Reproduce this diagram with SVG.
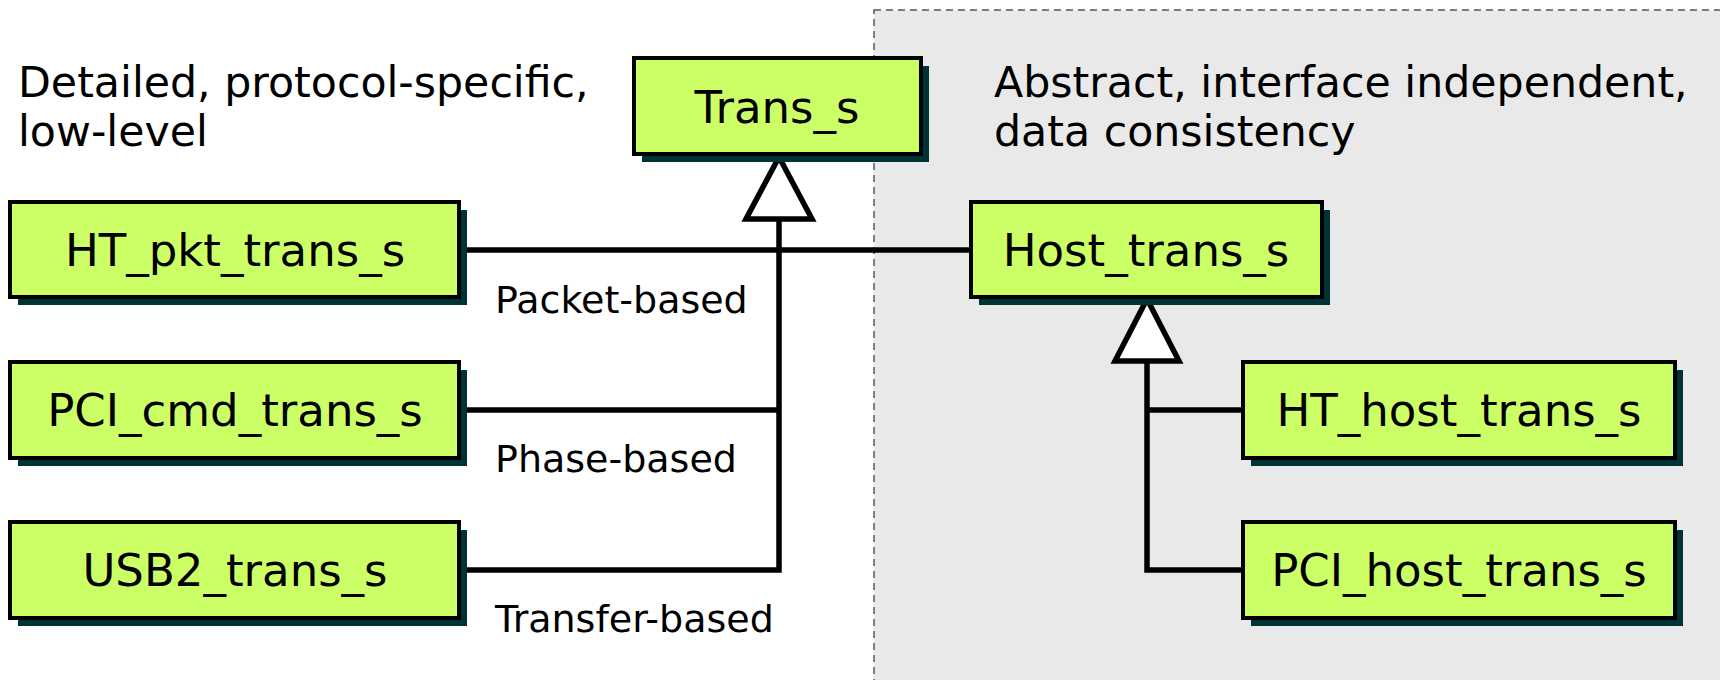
<svg xmlns="http://www.w3.org/2000/svg" width="1720" height="680" viewBox="0 0 1720 680">
  <style>
    .region { fill: #e9e9e9; stroke: #555555; stroke-width: 1.5; stroke-dasharray: 7 5; }
    .shadow { fill: #003333; }
    .box { fill: #ccff66; stroke: #000000; stroke-width: 4; }
    .name { font-family: "DejaVu Sans", Verdana, sans-serif; font-size: 45px; fill: #000000; text-anchor: middle; }
    .heading { font-family: "DejaVu Sans", Verdana, sans-serif; font-size: 42.7px; fill: #000000; }
    .tag { font-family: "DejaVu Sans", Verdana, sans-serif; font-size: 38px; fill: #000000; }
    .wire { fill: none; stroke: #000000; stroke-width: 5.5; }
    .inherit { fill: #ffffff; stroke: #000000; stroke-width: 5.5; stroke-linejoin: miter; }
  </style>

  <!-- abstract-level area on the right -->
  <rect class="region" x="874" y="10" width="860" height="690"/>

  <text class="heading" x="18" y="97">Detailed, protocol-specific,</text>
  <text class="heading" x="18" y="146">low-level</text>
  <text class="heading" x="994" y="97">Abstract, interface independent,</text>
  <text class="heading" x="994" y="146">data consistency</text>

  <!-- connectors -->
  <g id="connectors">
    <path class="wire" d="M459 250 H971"/>
    <path class="wire" d="M779 215 V570 H459"/>
    <path class="wire" d="M459 410 H779"/>
    <path class="wire" d="M1147 360 V570 H1243"/>
    <path class="wire" d="M1147 410 H1243"/>
    <polygon class="inherit" points="779,157 812,219 746,219"/>
    <polygon class="inherit" points="1147,299 1179,361 1115,361"/>
  </g>

  <text class="tag" x="495" y="313">Packet-based</text>
  <text class="tag" x="495" y="472">Phase-based</text>
  <text class="tag" x="495" y="632">Transfer-based</text>

  <g id="trans_s">
    <rect class="shadow" x="642" y="66" width="287" height="96"/>
    <rect class="box" x="634" y="58" width="287" height="96"/>
    <text class="name" x="777" y="123">Trans_s</text>
  </g>

  <g id="ht_pkt_trans_s">
    <rect class="shadow" x="18" y="210" width="449" height="95"/>
    <rect class="box" x="10" y="202" width="449" height="95"/>
    <text class="name" x="235" y="266">HT_pkt_trans_s</text>
  </g>

  <g id="pci_cmd_trans_s">
    <rect class="shadow" x="18" y="370" width="449" height="96"/>
    <rect class="box" x="10" y="362" width="449" height="96"/>
    <text class="name" x="235" y="426">PCI_cmd_trans_s</text>
  </g>

  <g id="usb2_trans_s">
    <rect class="shadow" x="18" y="530" width="449" height="96"/>
    <rect class="box" x="10" y="522" width="449" height="96"/>
    <text class="name" x="235" y="586">USB2_trans_s</text>
  </g>

  <g id="host_trans_s">
    <rect class="shadow" x="979" y="210" width="351" height="95"/>
    <rect class="box" x="971" y="202" width="351" height="95"/>
    <text class="name" x="1146" y="266">Host_trans_s</text>
  </g>

  <g id="ht_host_trans_s">
    <rect class="shadow" x="1251" y="370" width="432" height="96"/>
    <rect class="box" x="1243" y="362" width="432" height="96"/>
    <text class="name" x="1459" y="426">HT_host_trans_s</text>
  </g>

  <g id="pci_host_trans_s">
    <rect class="shadow" x="1251" y="530" width="432" height="96"/>
    <rect class="box" x="1243" y="522" width="432" height="96"/>
    <text class="name" x="1459" y="586">PCI_host_trans_s</text>
  </g>
</svg>
